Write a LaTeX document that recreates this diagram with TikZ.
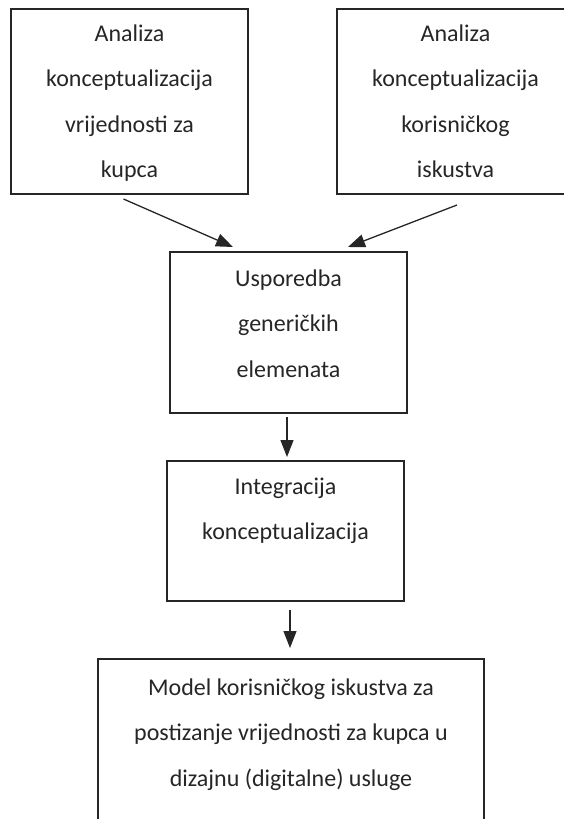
\documentclass[tikz,border=0pt]{standalone}
\usepackage{fontspec}
\setmainfont{Carlito}
\usetikzlibrary{arrows.meta}
\newcommand\boxtxt[4]{\parbox[t][#1][t]{#2}{\centering\baselineskip=45.5pt\rule{0pt}{#3}#4\par}}
\tikzset{
  stepbox/.style={draw=black!85, line width=1.6pt, inner sep=0pt, outer sep=0pt, anchor=north west,
    text=black!85, font=\fontsize{24pt}{45.5pt}\selectfont},
  arr/.style={draw=black!85, line width=1.3pt, -{Triangle[length=17pt,width=13pt]}}
}
\begin{document}
\begin{tikzpicture}[x=1pt,y=-1pt]
\useasboundingbox (0,0) rectangle (564,819);
\clip (0,0) rectangle (564,819);
\node[stepbox] (b1) at (11,9) {\boxtxt{185pt}{237pt}{32pt}{Analiza\\konceptualizacija\\vrijednosti za\\kupca}};
\node[stepbox] (b2) at (337,9) {\boxtxt{185pt}{237pt}{32pt}{Analiza\\konceptualizacija\\korisničkog\\iskustva}};
\node[stepbox] (b3) at (170,252) {\boxtxt{161pt}{237pt}{34pt}{Usporedba\\generičkih\\elemenata}};
\node[stepbox] (b4) at (167,461) {\boxtxt{140pt}{237pt}{33pt}{Integracija\\konceptualizacija}};
\node[stepbox] (b5) at (98,659) {\boxtxt{180pt}{386pt}{36pt}{Model korisničkog iskustva za\\postizanje vrijednosti za kupca u\\dizajnu (digitalne) usluge}};
\draw[arr] ([shift={(-6,5)}]b1.south) -- ([shift={(63,-5)}]b3.north west);
\draw[arr] ([shift={(1.5,11)}]b2.south) -- ([shift={(-59,-5)}]b3.north east);
\draw[arr] ([shift={(-1.5,4)}]b3.south) -- ([shift={(1.5,-4)}]b4.north);
\draw[arr] ([shift={(4.5,9)}]b4.south) -- ([shift={(-1,-11)}]b5.north);
\end{tikzpicture}
\end{document}
